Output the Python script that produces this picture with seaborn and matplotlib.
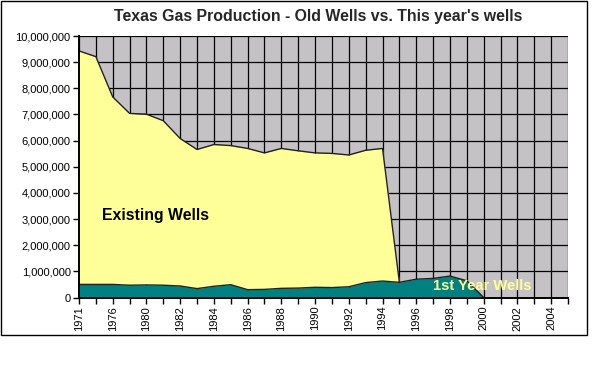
import numpy as np
import pandas as pd
import matplotlib
matplotlib.use("Agg")
import matplotlib.pyplot as plt
import seaborn as sns
from matplotlib.patches import Rectangle
from matplotlib.ticker import FuncFormatter

# ---- data ----
categories = ["1971", "1973", "1976", "1978", "1980", "1981", "1982", "1983", "1984",
              "1985", "1986", "1987", "1988", "1989", "1990", "1991", "1992", "1993",
              "1994", "1995", "1996", "1997", "1998", "1999", "2000", "2001", "2002",
              "2003", "2004", "2005"]
existing_wells = [8930000, 8710000, 7170000, 6570000, 6530000, 6290000, 5640000, 5320000,
                  5420000, 5320000, 5400000, 5220000, 5350000, 5250000, 5140000, 5130000,
                  5040000, 5060000, 5070000, 0]
first_year_wells = [500000, 500000, 500000, 470000, 480000, 470000, 440000, 340000, 430000,
                    490000, 300000, 310000, 350000, 360000, 390000, 380000, 410000, 570000,
                    630000, 580000, 700000, 730000, 820000, 640000, 0]
y_ticks = [0, 1000000, 2000000, 3000000, 4000000, 5000000, 6000000, 7000000, 8000000,
           9000000, 10000000]
title = "Texas Gas Production - Old Wells vs. This year's wells"
label_existing = "Existing Wells"
label_first = "1st Year Wells"

# ---- style ----
sns.set_theme(style="white")
plt.rcParams['font.family'] = ['Liberation Sans', 'DejaVu Sans']

W, H = 592, 368
fig = plt.figure(figsize=(W / 100, H / 100), dpi=100)
fig.patch.set_facecolor("white")
ax = fig.add_axes([79 / W, (H - 297.5) / H, 489 / W, 261.5 / H])

n_cat = len(categories)
fy = np.array(first_year_wells, dtype=float)
ex = np.array(existing_wells, dtype=float)
x_first = np.arange(len(fy))
x_exist = np.arange(len(ex))
total = fy[:len(ex)] + ex

df_total = pd.DataFrame({"x": x_exist, "y": total})
df_first = pd.DataFrame({"x": x_first, "y": fy})

ax.set_facecolor("#c5c2c5")
ax.fill_between(x_exist, fy[:len(ex)], total, color="#ffff99", lw=0, zorder=3)
ax.fill_between(x_first, 0, fy, color="#008080", lw=0, zorder=3)
sns.lineplot(data=df_total, x="x", y="y", color="#202020", lw=1.0, ax=ax, zorder=4)
sns.lineplot(data=df_first, x="x", y="y", color="#202020", lw=1.0, ax=ax, zorder=4)

ax.set_xlim(0, n_cat - 1)
ax.set_ylim(y_ticks[0], y_ticks[-1])
ax.set_xticks(np.arange(n_cat))
ax.set_xticklabels([c if i % 2 == 0 else "" for i, c in enumerate(categories)],
                   rotation=90, fontsize=8)
ax.set_yticks(y_ticks)
ax.yaxis.set_major_formatter(FuncFormatter(lambda v, p: f"{v:,.0f}"))
ax.tick_params(axis="y", labelsize=8)
ax.tick_params(bottom=True, left=True, direction="out", length=4, width=1,
               color="black", labelcolor="black", pad=2)
ax.set_xlabel("")
ax.set_ylabel("")
ax.grid(True, color="black", lw=0.9)
ax.set_axisbelow(True)
for s in ["top", "right"]:
    ax.spines[s].set_visible(False)
for s in ["left", "bottom"]:
    ax.spines[s].set_color("black")
    ax.spines[s].set_linewidth(1.4)
    ax.spines[s].set_zorder(6)

ax.text(1.35, 3150000, label_existing, fontsize=11.4, fontweight="bold", color="black",
        ha="left", va="center", zorder=5)
ax.text(21.0, 440000, label_first, fontsize=10.6, fontweight="bold", color="#ffff99",
        ha="left", va="center", zorder=5)

fig.text(318 / W, 1 - 16.5 / H, title, fontsize=11.4, fontweight="bold",
         ha="center", va="center")

fig.add_artist(Rectangle((1 / W, (H - 335) / H), 586 / W, 334 / H, fill=False,
                         ec="black", lw=1, transform=fig.transFigure))

fig.savefig("out.png", dpi=100)
